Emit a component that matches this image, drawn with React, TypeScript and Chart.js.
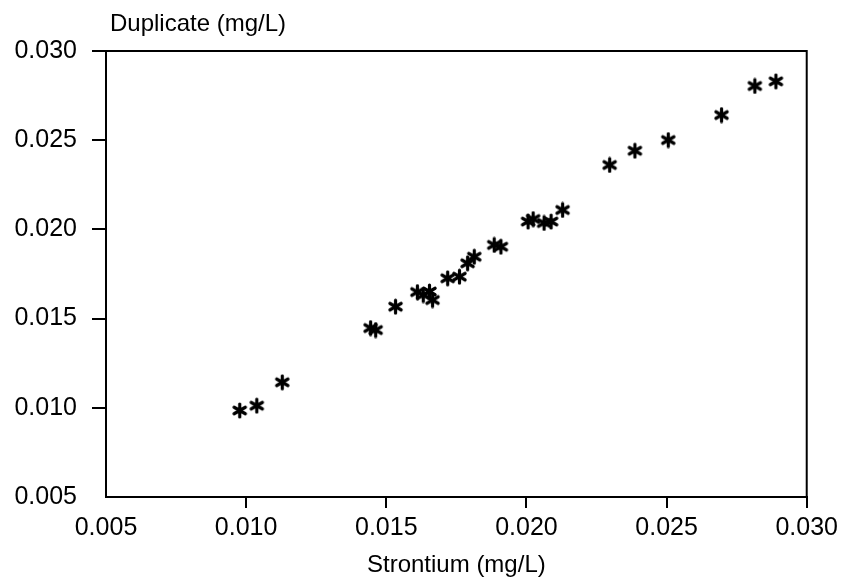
import React, { useEffect, useRef } from "react";
import { Chart, registerables } from "chart.js";

Chart.register(...registerables);

const strontium = [
  0.00977, 0.01038, 0.01129, 0.01444, 0.01462, 0.01533, 0.01611, 0.01632, 0.01654,
  0.01665, 0.01719, 0.01761, 0.0179, 0.01814, 0.01885, 0.01909, 0.02006, 0.02024,
  0.02063, 0.02088, 0.02129, 0.02297, 0.02387, 0.02506, 0.02696, 0.02815, 0.0289,
];
const duplicate = [
  0.00985, 0.01012, 0.01143, 0.01447, 0.01436, 0.01567, 0.01649, 0.01632, 0.01652,
  0.01604, 0.01726, 0.01735, 0.0181, 0.01847, 0.01913, 0.01903, 0.02044, 0.02058,
  0.02036, 0.02044, 0.02109, 0.02361, 0.02441, 0.02501, 0.02641, 0.02804, 0.0283,
];
const tickValues = [0.005, 0.01, 0.015, 0.02, 0.025, 0.03];
const xTitle = "Strontium (mg/L)";
const yTitle = "Duplicate (mg/L)";

const FONT = "'Liberation Sans', Arial, Helvetica, sans-serif";
const W = 843;
const H = 577;
const PLOT_LEFT = 106;
const PLOT_RIGHT = 808;
const PLOT_TOP = 51;
const PLOT_BOTTOM = 497;

function makeAsterisk(): HTMLCanvasElement {
  const size = 17;
  const c = document.createElement("canvas");
  c.width = size;
  c.height = size;
  const g = c.getContext("2d")!;
  g.strokeStyle = "#000";
  g.fillStyle = "#000";
  g.lineWidth = 3.2;
  g.lineCap = "round";
  const r = 6.5;
  const cx = size / 2;
  const cy = size / 2;
  for (let k = 0; k < 3; k++) {
    const a = Math.PI / 2 + (k * Math.PI) / 3;
    g.beginPath();
    g.moveTo(cx + r * Math.cos(a), cy + r * Math.sin(a));
    g.lineTo(cx - r * Math.cos(a), cy - r * Math.sin(a));
    g.stroke();
  }
  g.beginPath();
  g.arc(cx, cy, 2.8, 0, Math.PI * 2);
  g.fill();
  return c;
}

const framePlugin = {
  id: "frameAndTitle",
  afterDraw(chart: any) {
    const { ctx, chartArea } = chart;
    ctx.save();
    ctx.strokeStyle = "#000";
    ctx.lineWidth = 2;
    ctx.strokeRect(chartArea.left, chartArea.top, chartArea.right - chartArea.left, chartArea.bottom - chartArea.top);
    ctx.fillStyle = "#000";
    ctx.font = `24px ${FONT}`;
    ctx.textAlign = "left";
    ctx.textBaseline = "alphabetic";
    ctx.fillText(yTitle, 110, 31);
    ctx.restore();
  },
};

export default function App() {
  const ref = useRef<HTMLCanvasElement | null>(null);
  useEffect(() => {
    if (!ref.current) return;
    const star = makeAsterisk();
    const data = strontium.map((x, i) => ({ x, y: duplicate[i] }));
    const tickFont = { family: FONT, size: 25 };
    const gridColor = (c: any) => (c.tick && Math.abs(c.tick.value - 0.005) < 1e-9 ? "rgba(0,0,0,0)" : "#000");
    const chart = new Chart(ref.current, {
      type: "scatter",
      data: {
        datasets: [
          {
            data,
            pointStyle: star as any,
            pointRadius: 8,
            pointHoverRadius: 8,
            backgroundColor: "#000",
            borderColor: "#000",
          },
        ],
      },
      options: {
        animation: false,
        responsive: false,
        events: [],
        layout: { padding: { top: PLOT_TOP, right: W - PLOT_RIGHT, left: 0, bottom: 0 } },
        plugins: { legend: { display: false }, tooltip: { enabled: false }, title: { display: false } },
        scales: {
          x: {
            type: "linear",
            min: 0.005,
            max: 0.03,
            afterBuildTicks: (s: any) => {
              s.ticks = tickValues.map((v) => ({ value: v }));
            },
            afterFit: (s: any) => {
              s.height = H - PLOT_BOTTOM;
            },
            ticks: {
              color: "#000",
              font: tickFont,
              padding: 5,
              maxRotation: 0,
              callback: (v: any) => Number(v).toFixed(3),
            },
            grid: { drawOnChartArea: false, drawTicks: true, tickLength: 11, color: gridColor, lineWidth: 2 },
            border: { display: true, color: "#000", width: 2 },
            title: {
              display: true,
              text: xTitle,
              color: "#000",
              font: { family: FONT, size: 24 },
              padding: { top: 0, bottom: -3 },
            },
          },
          y: {
            type: "linear",
            min: 0.005,
            max: 0.03,
            afterBuildTicks: (s: any) => {
              s.ticks = tickValues.map((v) => ({ value: v }));
            },
            afterFit: (s: any) => {
              s.width = PLOT_LEFT;
            },
            ticks: {
              color: "#000",
              font: tickFont,
              padding: 15,
              callback: (v: any) => Number(v).toFixed(3),
            },
            grid: { drawOnChartArea: false, drawTicks: true, tickLength: 14, color: gridColor, lineWidth: 2 },
            border: { display: true, color: "#000", width: 2 },
          },
        },
      },
      plugins: [framePlugin],
    });
    return () => chart.destroy();
  }, []);
  return (
    <div style={{ position: "fixed", left: 0, top: 0, width: W, height: H, background: "#fff" }}>
      <canvas ref={ref} width={W} height={H} style={{ width: W, height: H, display: "block" }} />
    </div>
  );
}
